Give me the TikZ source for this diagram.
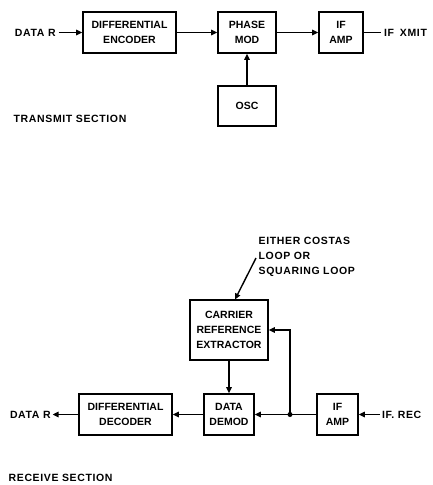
\documentclass[tikz,border=0pt]{standalone}
\usepackage{fontspec}
\setmainfont{Liberation Sans}
\usetikzlibrary{arrows.meta}
\begin{document}
\begin{tikzpicture}[x=1pt,y=-1pt,line width=1.4pt,
  blk/.style={draw,line width=1.6pt,align=center,inner sep=0pt,
    font=\bfseries\fontsize{10.5}{15}\selectfont},
  lbl/.style={inner sep=0pt,font=\bfseries\fontsize{10.5}{15}\selectfont\addfontfeature{LetterSpace=6}},
  arr/.style={-{Triangle[length=6pt,width=5.5pt]}}]
\useasboundingbox (0,0) rectangle (432,485);
% transmit section
\node[blk,minimum width=93pt,minimum height=41pt] (enc) at (129.5,32.5) {DIFFERENTIAL\\ENCODER};
\node[blk,minimum width=58pt,minimum height=41pt] (pm) at (247,32.5) {PHASE\\MOD};
\node[blk,minimum width=44pt,minimum height=41pt] (tif) at (341,32.5) {IF\\AMP};
\node[blk,minimum width=58pt,minimum height=40pt] (osc) at (247,106) {OSC};
\node[lbl,anchor=west,outer sep=3pt] (datatx) at (12,32.5) {DATA R};
\node[lbl,anchor=west,outer sep=3pt] (xmit) at (381,32.5) {IF\hspace{6pt}XMIT};
\node[lbl,anchor=west] (txsec) at (13,119) {TRANSMIT SECTION};
\draw[arr] (datatx.east) -- (enc.west);
\draw[arr] (enc.east) -- (pm.west);
\draw[arr] (pm.east) -- (tif.west);
\draw (tif.east) -- (xmit.west);
\draw[arr] (osc.north) -- (pm.south);
% receive section
\node[lbl,align=left,anchor=north west] (note) at (258,236) {EITHER COSTAS\\LOOP OR\\SQUARING LOOP};
\node[blk,minimum width=78pt,minimum height=60pt] (car) at (229,330) {CARRIER\\REFERENCE\\EXTRACTOR};
\node[blk,minimum width=50pt,minimum height=41pt] (dem) at (229,414.5) {DATA\\DEMOD};
\node[blk,minimum width=93pt,minimum height=41pt] (dec) at (125.5,414.5) {DIFFERENTIAL\\DECODER};
\node[blk,minimum width=41pt,minimum height=41pt] (rif) at (337.5,414.5) {IF\\AMP};
\node[lbl,anchor=west,outer sep=2pt] (datarx) at (8,414.5) {DATA R};
\node[lbl,anchor=west,outer sep=2pt] (ifrec) at (380,414.5) {IF. REC};
\node[lbl,anchor=west] (rxsec) at (8,478) {RECEIVE SECTION};
\coordinate (ldr) at (256,258);
\coordinate (ldrend) at (235,299.5);
\coordinate (j) at (290,414.5);
\draw[arr] (ldr) -- (ldrend);
\draw[arr] (car.south) -- (dem.north);
\draw (rif.west) -- (j);
\draw[arr] (j) -- (dem.east);
\draw[arr] (j) |- (car.east);
\draw[arr] (dem.west) -- (dec.east);
\draw[arr] (dec.west) -- (datarx.east);
\draw[arr] (ifrec.west) -- (rif.east);
\fill (j) circle (2.5pt);
\end{tikzpicture}
\end{document}
